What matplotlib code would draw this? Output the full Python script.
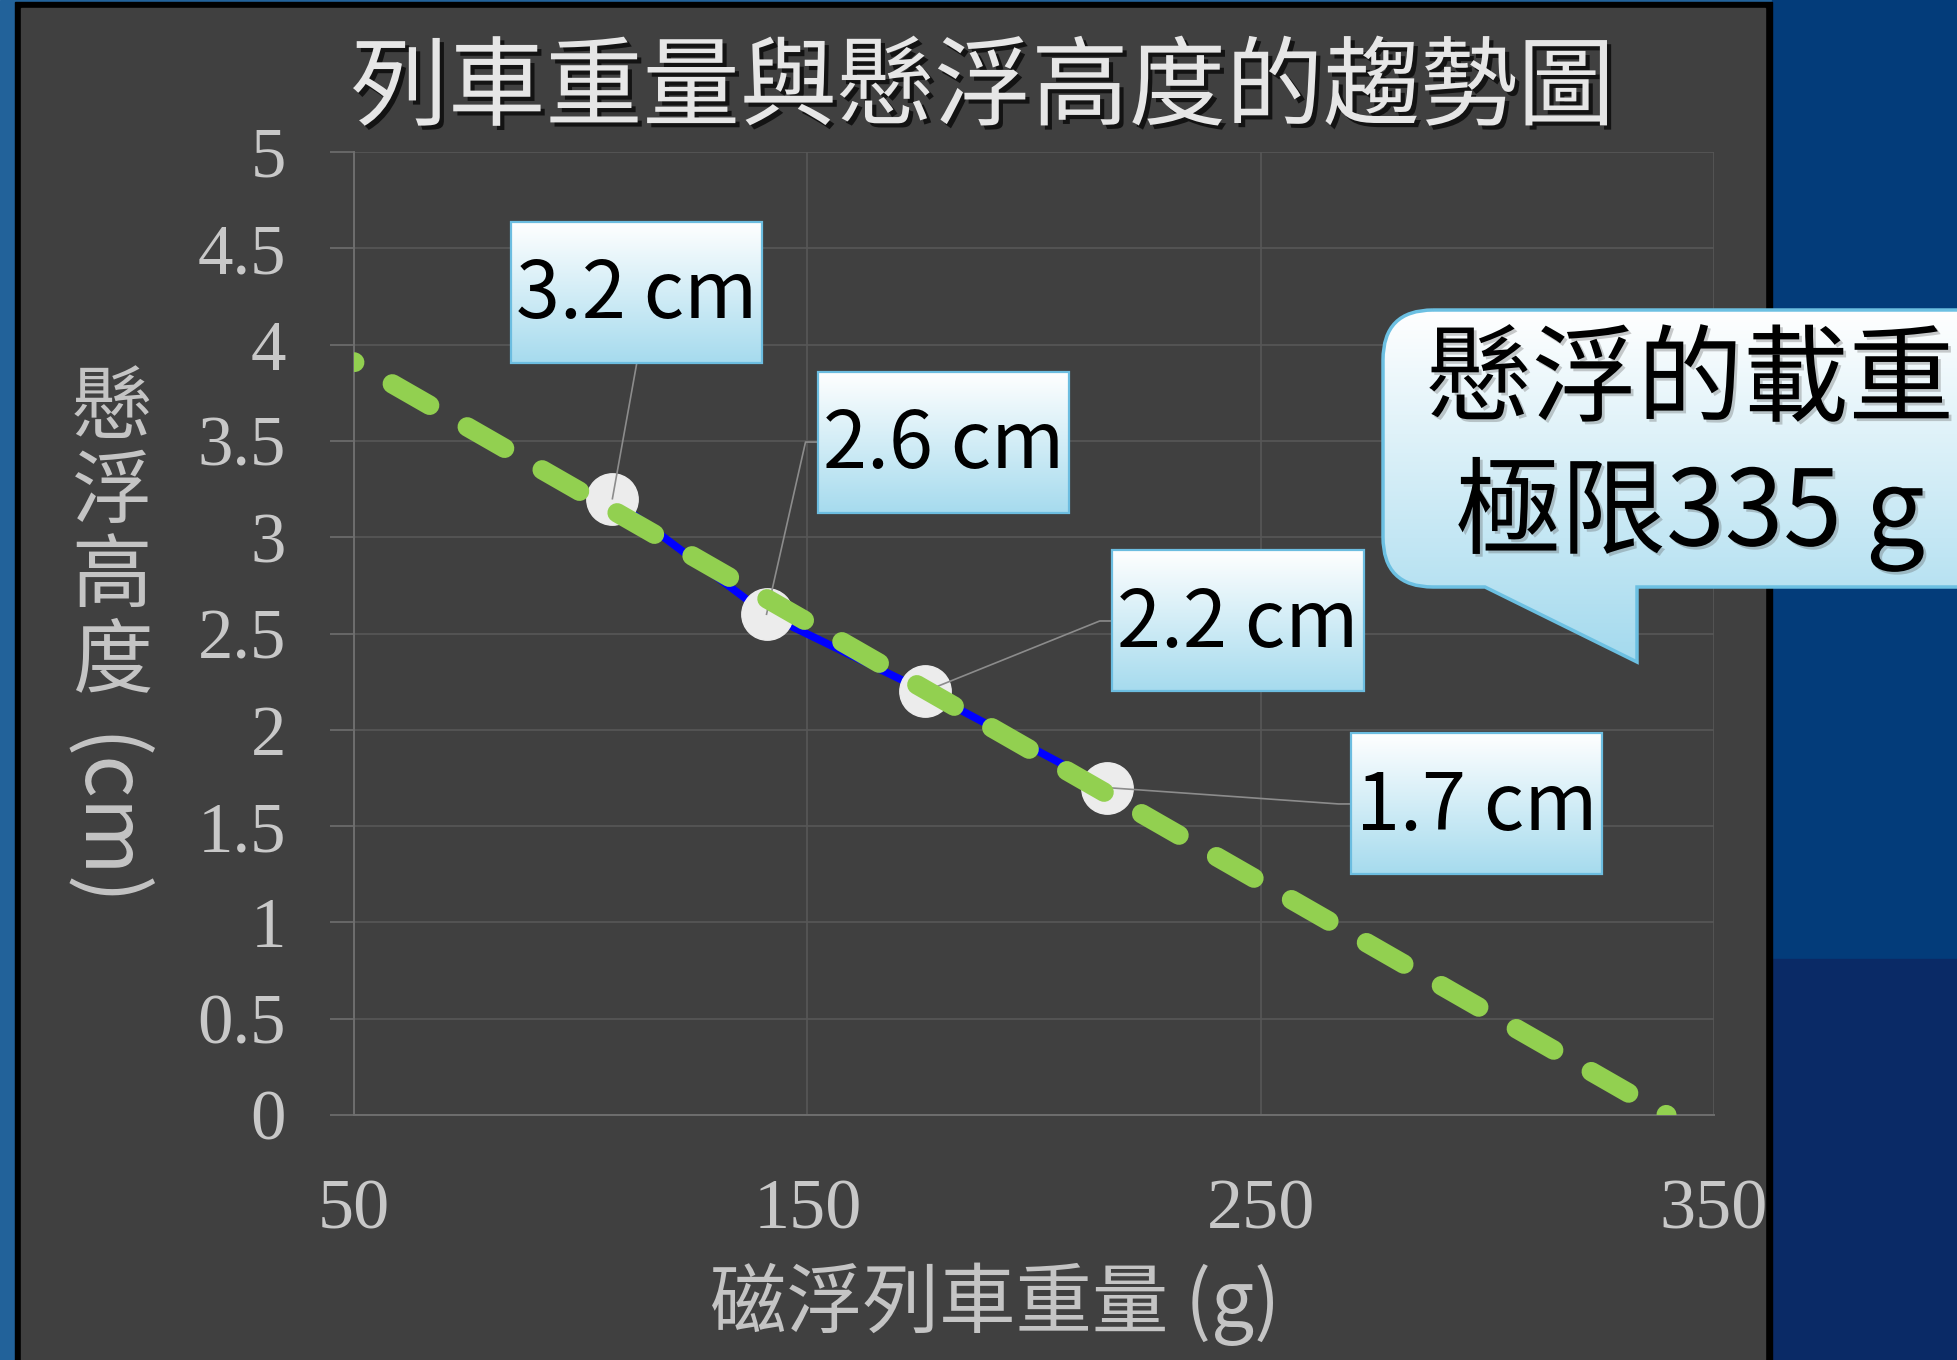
import numpy as np
import matplotlib
matplotlib.use("Agg")
import matplotlib.pyplot as plt
from matplotlib.patches import Rectangle, PathPatch
from matplotlib.path import Path
from matplotlib.colors import LinearSegmentedColormap
import matplotlib.patheffects as pe

plt.rcParams['lines.scale_dashes'] = False

# ---- data ----
train_weight_g = [107, 141, 176, 216]
float_height_cm = [3.2, 2.6, 2.2, 1.7]
x_ticks = [50, 150, 250, 350]
y_ticks = [0, 0.5, 1, 1.5, 2, 2.5, 3, 3.5, 4, 4.5, 5]
y_tick_labels = ['0', '0.5', '1', '1.5', '2', '2.5', '3', '3.5', '4', '4.5', '5']
title_text = "列車重量與懸浮高度的趨勢圖"
x_label_text = "磁浮列車重量 (g)"
y_label_chars = "懸浮高度"
y_label_unit = "(cm)"
callout_lines = ["懸浮的載重", "極限335 g"]

CJK = ['Noto Sans CJK TC', 'DejaVu Sans']

W, H = 1957, 1360
fig = plt.figure(figsize=(W / 100, H / 100), dpi=100)

# ---- slide background and dark chart panel (pixel coordinates) ----
bg = fig.add_axes([0, 0, 1, 1], zorder=0)
bg.set_xlim(0, W)
bg.set_ylim(H, 0)
bg.axis('off')
bg.add_patch(Rectangle((0, 0), W, H, color='#22629a'))
bg.add_patch(Rectangle((1772, 0), W - 1772, 959, color='#033c7a'))
bg.add_patch(Rectangle((1772, 959), W - 1772, H - 959, color='#0a2a66'))
bg.add_patch(Rectangle((15, 2), 1772 - 15, H, color='black'))
bg.add_patch(Rectangle((21, 8), 1765 - 21, H, color='#404040'))

# ---- main plot ----
ax = fig.add_axes([354 / W, 1 - 1115 / H, (1714 - 354) / W, (1115 - 152) / H], zorder=1)
ax.set_facecolor('none')

ax.plot(train_weight_g, float_height_cm, color='#0000ff', lw=5.5, zorder=3,
        solid_capstyle='butt')
ax.plot(train_weight_g, float_height_cm, 'o', ms=37, mfc='#ececec', mec='#ececec',
        zorder=4)

# linear trend line, extended back to 50 g and forward to zero height
coef = np.polyfit(train_weight_g, float_height_cm, 1)
x_zero = -coef[1] / coef[0]
trend_x = np.array([50.0, x_zero])
dash_on, dash_off = 31.0, 31.2
ax.plot(trend_x, np.polyval(coef, trend_x), color='#92d050', lw=14,
        linestyle=(dash_on - 0.6, (dash_on, dash_off)), dash_capstyle='round',
        zorder=6)

# data labels in gradient boxes with leader lines
box_w, box_h = 55.4, 0.732
box_centers = [(112.4, 4.273), (180.1, 3.494), (245.0, 2.565), (297.7, 1.615)]
leader_side = ['bottom', 'left', 'left', 'left']
box_cmap = LinearSegmentedColormap.from_list('box', ['#ffffff', '#a6dbee'])
grad = np.linspace(0, 1, 256).reshape(-1, 1)
px_per_unit_y = (1115 - 152) / 5.0
for (px, py), (cx, cy), side in zip(zip(train_weight_g, float_height_cm),
                                   box_centers, leader_side):
    x0, x1 = cx - box_w / 2, cx + box_w / 2
    y0, y1 = cy - box_h / 2, cy + box_h / 2
    if side == 'bottom':
        lx, ly = [px, cx], [py, y0]
    else:
        lx, ly = [px, x0 - 2.8, x0], [py, cy, cy]
    ax.plot(lx, ly, color='#8c8c8c', lw=1.2, zorder=4.5)
    ax.imshow(grad, extent=[x0, x1, y0, y1], aspect='auto', cmap=box_cmap,
              interpolation='bicubic', zorder=7)
    ax.add_patch(Rectangle((x0, y0), box_w, box_h, fill=False, ec='#6cbde0',
                           lw=1.6, zorder=8))
    ax.text(cx, cy - 26 / px_per_unit_y, f"{py:.1f} cm", ha='center',
            va='baseline', fontsize=57, family=CJK, color='black', zorder=9)

ax.set_xlim(50, 350)
ax.set_ylim(0, 5)
ax.set_xticks(x_ticks)
ax.set_yticks(y_ticks)
ax.set_yticklabels(y_tick_labels)
ax.grid(True, color='#575757', lw=1.2)
ax.set_axisbelow(True)
for s in ['top', 'right']:
    ax.spines[s].set_visible(False)
for s in ['left', 'bottom']:
    ax.spines[s].set_color('#6e6e6e')
    ax.spines[s].set_linewidth(1.4)
ax.tick_params(axis='y', length=17, width=1.2, color='#6e6e6e', pad=32,
               labelsize=51, labelcolor='#c8c8c8', labelfontfamily='Liberation Serif')
ax.tick_params(axis='x', length=0, pad=46, labelsize=52, labelcolor='#c8c8c8',
               labelfontfamily='Liberation Serif')

# ---- titles and axis labels (pixel overlay) ----
ov = fig.add_axes([0, 0, 1, 1], zorder=3)
ov.set_xlim(0, W)
ov.set_ylim(H, 0)
ov.axis('off')
ov.set_facecolor('none')

ov.text(983, 90, title_text, ha='center', va='center', fontsize=70, family=CJK,
        weight='light', color='#e6e6e6',
        path_effects=[pe.withSimplePatchShadow(offset=(3, -3), shadow_rgbFace='black',
                                               alpha=0.7)])
ov.text(995, 1304, x_label_text, ha='center', va='center', fontsize=55, family=CJK,
        weight='light', color='#c4c4c4')
for i, ch in enumerate(y_label_chars):
    ov.text(112, 410 + 84 * i, ch, ha='center', va='center', fontsize=58,
            family=CJK, weight='light', color='#c4c4c4')
ov.text(102, 822, y_label_unit, ha='center', va='center', rotation=-90,
        fontsize=60, family=CJK, weight='light', color='#c4c4c4')

# ---- speech-bubble callout ----
L, T, R, B, r = 1383, 310, 2010, 587, 50
ta, tb, tip_y = 1485, 1637, 662
verts = [(L + r, T), (R - r, T), (R, T), (R, T + r), (R, B - r), (R, B), (R - r, B),
         (tb, B), (tb, tip_y), (ta, B), (L + r, B), (L, B), (L, B - r), (L, T + r),
         (L, T), (L + r, T), (L + r, T)]
codes = [Path.MOVETO, Path.LINETO, Path.CURVE3, Path.CURVE3, Path.LINETO,
         Path.CURVE3, Path.CURVE3, Path.LINETO, Path.LINETO, Path.LINETO,
         Path.LINETO, Path.CURVE3, Path.CURVE3, Path.LINETO, Path.CURVE3,
         Path.CURVE3, Path.CLOSEPOLY]
bubble = PathPatch(Path(verts, codes), fc='none', ec='#6cc0e2', lw=2.5, zorder=5)
ov.add_patch(bubble)
bubble_cmap = LinearSegmentedColormap.from_list('bubble', ['#ffffff', '#a4daee'])
img = ov.imshow(grad, extent=[L, R, tip_y, T], aspect='auto', cmap=bubble_cmap,
                interpolation='bicubic', zorder=4)
img.set_clip_path(bubble)
ov.set_xlim(0, W)
ov.set_ylim(H, 0)

shadow = [pe.withSimplePatchShadow(offset=(2, -2), shadow_rgbFace='#555555', alpha=0.3)]
ov.text(1690, 383, callout_lines[0], ha='center', va='center', fontsize=76,
        family=CJK, color='black', zorder=6, path_effects=shadow)
ov.text(1690, 514, callout_lines[1], ha='center', va='center', fontsize=76,
        family=CJK, color='black', zorder=6, path_effects=shadow)

fig.savefig('out.png', dpi=100)
